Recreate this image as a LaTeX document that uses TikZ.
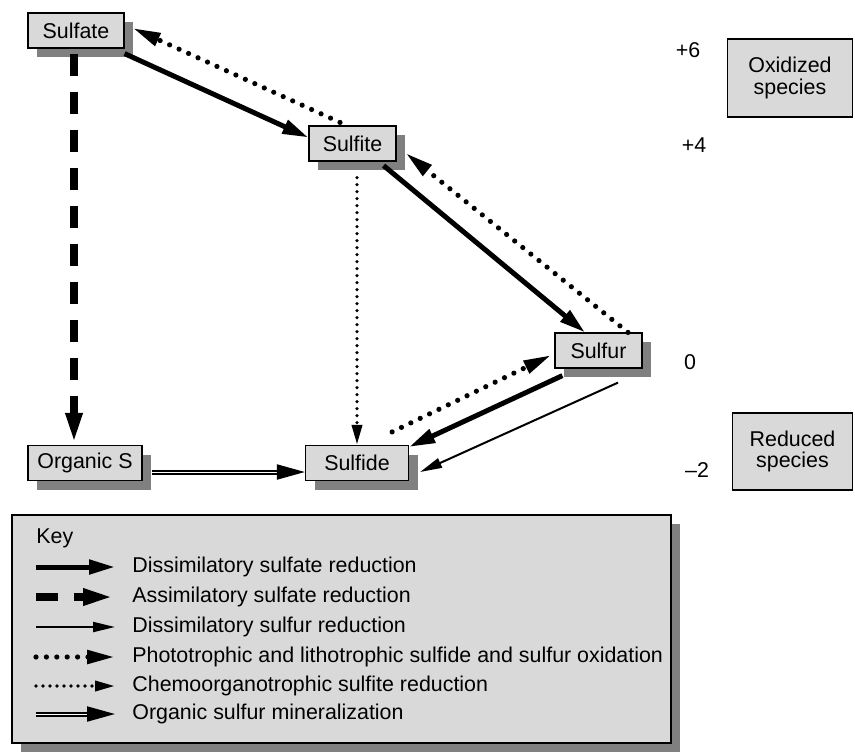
\documentclass[tikz,border=0pt]{standalone}
\usepackage{fontspec}
\setmainfont{Liberation Sans}
\usetikzlibrary{arrows.meta,shadows}

\definecolor{boxgray}{HTML}{D9D9D9}
\definecolor{shadowgray}{HTML}{808080}

\begin{document}
\begin{tikzpicture}[
    x=0.5pt, y=-0.5pt,
    every node/.style={font=\fontsize{10.7}{10.8}\selectfont},
    species/.style={rectangle, draw, line width=0.6pt, fill=boxgray, minimum height=17.5pt, inner sep=0pt, align=center,
        drop shadow={shadow xshift=4.5pt, shadow yshift=-4.5pt, fill=shadowgray, opacity=1}},
    level/.style={rectangle, draw, line width=0.6pt, fill=boxgray, align=center, inner sep=0pt},
    legend/.style={anchor=west, inner sep=0pt},
    dissim/.style={-{Triangle[length=13pt,width=7pt]}, line width=2.5pt},
    assim/.style={-{Triangle[length=16pt,width=7.5pt]}, line width=4pt, dash pattern=on 11pt off 8pt},
    sulfred/.style={-{Triangle[length=11pt,width=5pt]}, line width=1pt},
    photo/.style={-{Triangle[length=14pt,width=6.5pt]}, line width=2.6pt, line cap=round, dash pattern=on 0pt off 5.2pt},
    chemo/.style={-{Triangle[length=10pt,width=5pt]}, line width=1.8pt, line cap=round, dash pattern=on 0pt off 3.5pt},
    mineral/.style={-{Triangle[length=14pt,width=7.5pt]}, line width=1pt, double, double distance=0.5pt}
]
\useasboundingbox (0,0) rectangle (855,751);

% Sulfur species
\node[species, minimum width=48pt] (sulfate) at (76,30.5) {Sulfate};
\node[species, minimum width=43.5pt] (sulfite) at (352.5,143.5) {Sulfite};
\node[species, minimum width=43.5pt] (sulfur) at (598.5,350.5) {Sulfur};
\node[species, minimum width=51.5pt] (sulfide) at (357,463) {Sulfide};
\node[species, minimum width=57pt] (organic) at (85,463) {Organic S};

% Oxidation states
\node (ox6) at (688,50) {+6};
\node (ox4) at (694,145) {+4};
\node (ox0) at (690,362) {0};
\node (oxm2) at (697,470) {–2};
\node[level, minimum width=62.5pt, minimum height=39pt] (oxidized) at (790,78) {Oxidized\\species};
\node[level, minimum width=60pt, minimum height=38.5pt] (reduced) at (792.5,451.5) {Reduced\\species};

% Arrows
\draw[dissim] ([yshift=-2.5pt]sulfate.south east) -- ([yshift=3pt]sulfite.west);
\draw[photo] ([xshift=-6.25pt,yshift=1.5pt]sulfite.north) -- ([xshift=4pt,yshift=1.25pt]sulfate.east);
\draw[dissim] ([xshift=-6.5pt,yshift=-2pt]sulfite.south east) -- ([xshift=-6.75pt]sulfur.north);
\draw[photo] ([xshift=14.75pt]sulfur.north) -- ([xshift=4.5pt,yshift=-4.75pt]sulfite.east);
\draw[chemo] ([yshift=-8pt]sulfite.south -| sulfide.north) -- (sulfide.north);
\draw[photo] ([xshift=-8.5pt,yshift=6.5pt]sulfide.north east) -- ([xshift=-1.5pt,yshift=-2.25pt]sulfur.west);
\draw[dissim] ([xshift=4pt,yshift=-3.5pt]sulfur.south west) -- ([yshift=-1pt]sulfide.north east);
\draw[sulfred] ([xshift=9.75pt,yshift=-7pt]sulfur.south) -- ([xshift=5.5pt,yshift=-4.5pt]sulfide.east);
\draw[assim] ([xshift=-1pt,yshift=-2.5pt]sulfate.south) -- ([xshift=-1pt]sulfate.south |- organic.north);
\draw[mineral] ([xshift=4.5pt,yshift=-4.5pt]organic.east) -- ([yshift=-4.5pt]sulfide.west);

% Key
\node[species, minimum width=329.5pt, minimum height=114pt] (key) at (341.5,629) {};
\node[legend] (keytitle) at (36,538) {Key};

\coordinate (k1a) at (36,567); \coordinate (k1b) at (115,567);
\coordinate (k2a) at (36,597); \coordinate (k2b) at (115,597);
\coordinate (k3a) at (36,627); \coordinate (k3b) at (115,627);
\coordinate (k4a) at (36,657); \coordinate (k4b) at (115,657);
\coordinate (k5a) at (36,686); \coordinate (k5b) at (115,686);
\coordinate (k6a) at (36,714); \coordinate (k6b) at (115,714);

\draw[dissim] (k1a) -- (k1b);
\draw[assim] (k2a) -- (k2b);
\draw[sulfred] (k3a) -- (k3b);
\draw[photo] (k4a) -- (k4b);
\draw[chemo] (k5a) -- (k5b);
\draw[mineral] (k6a) -- (k6b);

\node[legend] (k1) at (132,567) {Dissimilatory sulfate reduction};
\node[legend] (k2) at (132,597) {Assimilatory sulfate reduction};
\node[legend] (k3) at (132,627) {Dissimilatory sulfur reduction};
\node[legend] (k4) at (132,657) {Phototrophic and lithotrophic sulfide and sulfur oxidation};
\node[legend] (k5) at (132,686) {Chemoorganotrophic sulfite reduction};
\node[legend] (k6) at (132,714) {Organic sulfur mineralization};

\end{tikzpicture}
\end{document}
